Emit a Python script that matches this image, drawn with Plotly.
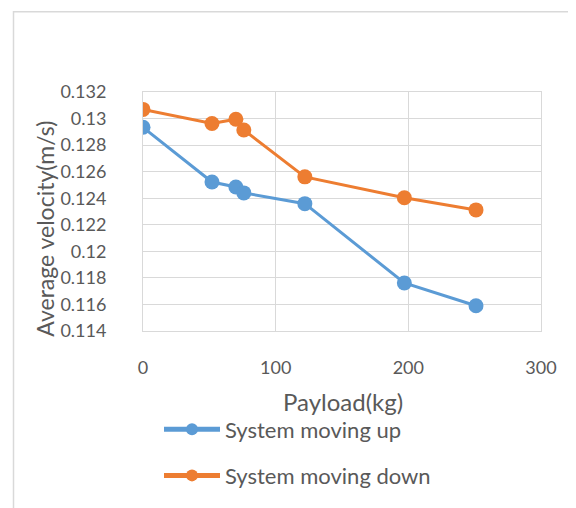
import plotly.graph_objects as go

payload = [0, 52, 70, 76, 122, 197, 251]
vel_up = [0.12934, 0.12522, 0.12485, 0.12440, 0.12359, 0.11762, 0.11590]
vel_down = [0.13069, 0.12963, 0.12995, 0.12914, 0.12561, 0.12403, 0.12312]
series_names = ["System moving up", "System moving down"]
y_ticks = [0.114, 0.116, 0.118, 0.12, 0.122, 0.124, 0.126, 0.128, 0.13, 0.132]
x_ticks = [0, 100, 200, 300]

OFF = 8  # page body margin
W, H = 576 - OFF, 508 - OFF
L, R, T, B = 143 - OFF, 541 - OFF, 92 - OFF, 335 - OFF  # plot area in figure px
FONT = "Lato"
TXT = "#595959"
GRID = "#D9D9D9"

def px(xs):
    return (xs - OFF - L) / (R - L)

def py(ys):
    return (B - (ys - OFF)) / (B - T)

fig = go.Figure()
fig.add_trace(go.Scatter(x=payload, y=vel_up, name=series_names[0], mode="lines+markers",
                         line=dict(color="#5B9BD5", width=3),
                         marker=dict(color="#5B9BD5", size=15), legend="legend"))
fig.add_trace(go.Scatter(x=payload, y=vel_down, name=series_names[1], mode="lines+markers",
                         line=dict(color="#ED7D31", width=3),
                         marker=dict(color="#ED7D31", size=15), legend="legend2"))

axis_common = dict(showgrid=True, gridcolor=GRID, gridwidth=1, zeroline=False,
                   showline=True, linecolor=GRID, linewidth=1, mirror=True,
                   tickfont=dict(family=FONT, size=18, color=TXT), ticks="")

fig.update_xaxes(range=[0, 300], tickvals=x_ticks, ticktext=[str(v) for v in x_ticks],
                 ticklabelstandoff=20, **axis_common)
fig.update_yaxes(range=[0.114, 0.132], tickvals=y_ticks, ticktext=[f"{v:g}" for v in y_ticks],
                 ticklabelstandoff=32, **axis_common)

legend_common = dict(font=dict(family=FONT, size=22, color=TXT), bgcolor="rgba(0,0,0,0)",
                     xref="paper", yref="paper", xanchor="left", yanchor="middle",
                     itemwidth=56, itemsizing="constant")
fig.update_layout(
    width=W, height=H,
    margin=dict(l=L, r=W - R, t=T, b=H - B),
    paper_bgcolor="white", plot_bgcolor="white",
    legend=dict(x=px(159), y=py(435), **legend_common),
    legend2=dict(x=px(159), y=py(482), **legend_common),
    showlegend=True,
)

fig.add_annotation(text="Payload(kg)", xref="paper", yref="paper", x=px(343), y=py(407),
                   showarrow=False, font=dict(family=FONT, size=24, color=TXT),
                   xanchor="center", yanchor="middle")
fig.add_annotation(text="Average velocity(m/s)", xref="paper", yref="paper", x=px(45), y=py(231),
                   showarrow=False, textangle=-90, font=dict(family=FONT, size=23, color=TXT),
                   xanchor="center", yanchor="middle")

fig.add_shape(type="rect", xref="paper", yref="paper", x0=px(13.5), x1=px(573.5), y0=py(10.5), y1=py(530),
              line=dict(color=GRID, width=1.5), fillcolor="rgba(0,0,0,0)", layer="below")

fig.write_html("out.html")
